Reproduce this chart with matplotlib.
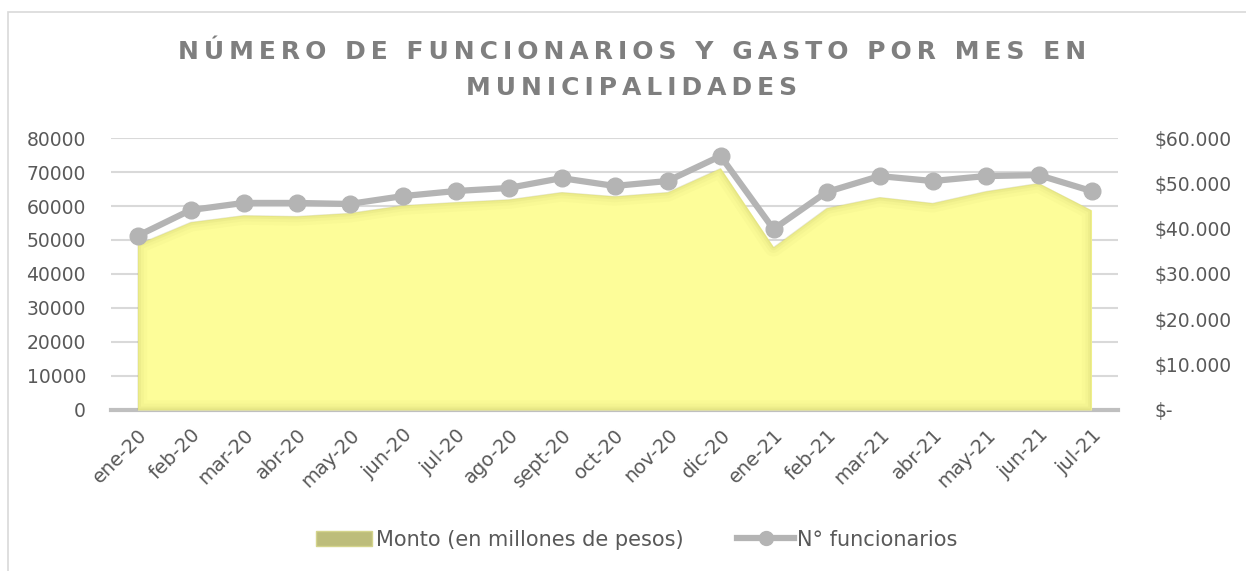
import matplotlib.pyplot as plt
from matplotlib.lines import Line2D
from matplotlib.patches import Patch, Rectangle
from matplotlib.ticker import FuncFormatter
import numpy as np

# data
meses = ['ene-20', 'feb-20', 'mar-20', 'abr-20', 'may-20', 'jun-20', 'jul-20',
         'ago-20', 'sept-20', 'oct-20', 'nov-20', 'dic-20', 'ene-21', 'feb-21',
         'mar-21', 'abr-21', 'may-21', 'jun-21', 'jul-21']
monto = [36600, 41500, 43000, 42800, 43500, 45200, 45900, 46500, 48100, 47200,
         48100, 53400, 36000, 44600, 47000, 45700, 48300, 50100, 44100]
funcionarios = [51200, 58800, 60900, 60900, 60600, 62900, 64400, 65300, 68200,
                65900, 67350, 74700, 53200, 64100, 68800, 67350, 68800, 69100, 64400]

text_col = '#595959'
grid_col = '#d9d9d9'
line_col = '#b4b4b4'
fill_col = '#fdfd99'

plt.rcParams['font.family'] = ['DejaVu Sans']


def spaced(s):
    # wide letter spacing like the original title
    return '\u2009'.join(s)


fig = plt.figure(figsize=(12.46, 5.71), dpi=100)
ax = fig.add_axes([0.0891, 0.2820, 0.8082, 0.4763])
ax2 = ax.twinx()

x = np.arange(len(meses))

# left axis: grid + ticks
ax.set_xlim(-0.5, len(meses) - 0.5)
ax.set_ylim(0, 80000)
ax.set_yticks(np.arange(0, 80001, 10000))
ax.grid(True, axis='y', color=grid_col, linewidth=1.5)
ax.set_axisbelow(True)
ax.tick_params(axis='y', length=0, labelsize=13.5, labelcolor=text_col, pad=18)
ax.tick_params(axis='x', length=0, labelsize=14, labelcolor=text_col, pad=11)
ax.set_xticks(x)
ax.set_xticklabels(meses, rotation=45, ha='right', va='top', rotation_mode='anchor')
for s in ['top', 'right', 'left']:
    ax.spines[s].set_visible(False)
ax.spines['bottom'].set_color('#bfbfbf')
ax.spines['bottom'].set_linewidth(3)

# right axis: area
ax2.set_ylim(0, 60000)
ax2.set_yticks(np.arange(0, 60001, 10000))
ax2.yaxis.set_major_formatter(FuncFormatter(
    lambda v, p: '$-' if v == 0 else '${:,.0f}'.format(v).replace(',', '.')))
ax2.tick_params(axis='y', length=0, labelsize=13.5, labelcolor=text_col, pad=26)
for s in ax2.spines.values():
    s.set_visible(False)

poly = ax2.fill_between(x, 0, monto, color=fill_col, linewidth=0, zorder=2)
# soft darker inner edge of the area
ex = np.concatenate([[x[0]], x, [x[-1], x[0]]])
ey = np.concatenate([[0], monto, [0, 0]])
for lw, a in [(14, 0.03), (9, 0.04), (5, 0.06), (2, 0.08)]:
    ln, = ax2.plot(ex, ey, color='#8c8c30', alpha=a, linewidth=lw, zorder=3,
                   solid_joinstyle='round')
    ln.set_clip_path(poly.get_paths()[0], ax2.transData)

# line on top, drawn in left-axis units
ax2.plot(x, funcionarios, color=line_col, linewidth=4.5, marker='o', markersize=12,
         transform=ax.transData, zorder=5, clip_on=False)

# title
tcol = '#7f7f7f'
fig.text(0.507, 0.909, spaced('NÚMERO DE FUNCIONARIOS Y GASTO POR MES EN'),
         ha='center', va='center', fontsize=18, fontweight='bold', color=tcol)
fig.text(0.507, 0.846, spaced('MUNICIPALIDADES'),
         ha='center', va='center', fontsize=18, fontweight='bold', color=tcol)

# legend
handles = [Patch(facecolor='#bdbd7b', edgecolor='#d4d48c', label='Monto (en millones de pesos)'),
           Line2D([0], [0], color=line_col, linewidth=4.5, marker='o', markersize=10,
                  label='N° funcionarios')]
fig.legend(handles=handles, loc='center', bbox_to_anchor=(0.511, 0.055), ncol=2,
           frameon=False, fontsize=15, labelcolor=text_col, handlelength=2.7,
           handletextpad=0.15, columnspacing=2.6)

# chart border
fig.patches.append(Rectangle((8 / 1246, -0.1), 1.2, 1 - 12 / 571 + 0.1, transform=fig.transFigure,
                             fill=False, edgecolor='#d9d9d9', linewidth=1.2))

fig.savefig('out.png', dpi=100)
